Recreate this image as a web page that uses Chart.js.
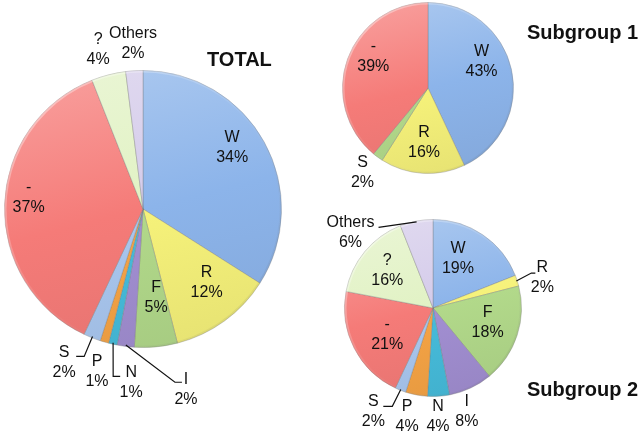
<!DOCTYPE html>
<html>
<head>
<meta charset="utf-8">
<script src="https://cdn.jsdelivr.net/npm/chart.js@4.4.1/dist/chart.umd.min.js"></script>
<style>
    html, body { margin: 0; padding: 0; background: #fff; }
    #stage { position: relative; width: 638px; height: 435px; overflow: hidden; font-family: 'Liberation Sans', Arial, sans-serif; }
    #stage canvas { position: absolute; left: 0; top: 0; }
    .title { position: absolute; font-weight: bold; font-size: 20px; line-height: 1; color: #111; white-space: nowrap; }
</style>
</head>
<body>
<div id="stage">
    <canvas id="totalChart" width="638" height="435"></canvas>
    <canvas id="sub1Chart" width="638" height="435"></canvas>
    <canvas id="sub2Chart" width="638" height="435"></canvas>
    <div class="title" style="left:207px; top:49px;">TOTAL</div>
    <div class="title" style="left:527px; top:22px;">Subgroup 1</div>
    <div class="title" style="left:527px; top:379px;">Subgroup 2</div>
</div>
<script>
// data (percent)
const totalCategories = ['W', 'R', 'F', 'I', 'N', 'P', 'S', '-', '?', 'Others'];
const totalValues = [34, 12, 5, 2, 1, 1, 2, 37, 4, 2];

const sub1Categories = ['W', 'R', 'S', '-'];
const sub1Values = [43, 16, 2, 39];

const sub2Categories = ['W', 'R', 'F', 'I', 'N', 'P', 'S', '-', '?', 'Others'];
const sub2Values = [19, 2, 18, 8, 4, 4, 2, 21, 16, 6];

const categoryColors = {
    'W': '#8cb4ea',
    'R': '#f6f27a',
    'F': '#b2d98a',
    'I': '#a28fd2',
    'N': '#46bcdb',
    'P': '#f6a445',
    'S': '#a9c7ef',
    '-': '#f57b78',
    '?': '#e1f2c4',
    'Others': '#d4cbea'
};

// label placement: f = distance / radius, da = degrees off the slice middle,
// knee / end = leader line points relative to the label centre (px)
const totalPlacement = [
    {f: 0.78, da: -5.6},
    {f: 0.70, da: -5},
    {f: 0.65, da: -3},
    {f: 1.338, da: -20.6, knee: [-11, -7], end: [-4, -7]},
    {f: 1.255, da: -8.7, knee: [-18, -6], end: [-11, -6]},
    {f: 1.219, da: -0.4},
    {f: 1.245, da: 5.6, knee: [20, -6], end: [12, -6]},
    {f: 0.83, da: 4},
    {f: 1.196, da: -1.3},
    {f: 1.196, da: 0.15}
];

const sub1Placement = [
    {f: 0.70, da: -14},
    {f: 0.64, da: 0.6},
    {f: 1.25, da: 1.8},
    {f: 0.74, da: 10.4}
];

const sub2Placement = [
    {f: 0.63, da: -7.6},
    {f: 1.281, da: 2.7, knee: [-11, -5], end: [-7, -5]},
    {f: 0.64, da: -2.7},
    {f: 1.229, da: 7.1},
    {f: 1.232, da: 1},
    {f: 1.259, da: 2.6},
    {f: 1.349, da: 8.4, knee: [19, -5], end: [10, -5]},
    {f: 0.60, da: -3.4},
    {f: 0.67, da: 0},
    {f: 1.264, da: -36.7, end: [28, -5]}
];

function shade(hex, amount) {
    const n = parseInt(hex.slice(1), 16);
    let r = (n >> 16) & 255, g = (n >> 8) & 255, b = n & 255;
    const target = amount > 0 ? 255 : 0;
    const t = Math.abs(amount);
    r = Math.round(r + (target - r) * t);
    g = Math.round(g + (target - g) * t);
    b = Math.round(b + (target - b) * t);
    return `rgb(${r},${g},${b})`;
}

function sliceFill(context, color) {
    const chart = context.chart;
    const area = chart.chartArea;
    if (!area) {
        return color;
    }
    const cx = (area.left + area.right) / 2;
    const cy = (area.top + area.bottom) / 2;
    const r = Math.min(area.right - area.left, area.bottom - area.top) / 2;
    // light from the top, a little from the left
    const g = chart.ctx.createLinearGradient(cx - r * 0.25, cy - r, cx + r * 0.25, cy + r);
    g.addColorStop(0, shade(color, 0.25));
    g.addColorStop(0.5, color);
    g.addColorStop(1, shade(color, -0.06));
    return g;
}

const sliceLabelsPlugin = {
    id: 'sliceLabels',
    afterDatasetsDraw(chart, args, opts) {
        const ctx = chart.ctx;
        const meta = chart.getDatasetMeta(0);
        const labels = chart.data.labels;
        const values = chart.data.datasets[0].data;

        ctx.save();
        // soft rim: light top-left, darker bottom-right
        const first = meta.data[0];
        const cx = first.x, cy = first.y, R = first.outerRadius;
        const rim = ctx.createLinearGradient(cx - R, cy - R, cx + R, cy + R);
        rim.addColorStop(0, 'rgba(255,255,255,0.5)');
        rim.addColorStop(0.5, 'rgba(255,255,255,0.05)');
        rim.addColorStop(1, 'rgba(0,0,0,0.1)');
        ctx.beginPath();
        ctx.arc(cx, cy, R - 1, 0, Math.PI * 2);
        ctx.strokeStyle = rim;
        ctx.lineWidth = 2;
        ctx.stroke();

        ctx.font = '16px "Liberation Sans", Arial, sans-serif';
        ctx.fillStyle = '#111';
        ctx.textAlign = 'center';
        ctx.textBaseline = 'middle';
        ctx.strokeStyle = '#111';
        ctx.lineWidth = 1.2;

        meta.data.forEach((arc, i) => {
            const p = opts.placement[i];
            const mid = (arc.startAngle + arc.endAngle) / 2;
            const a = mid + p.da * Math.PI / 180;
            const lx = arc.x + Math.cos(a) * arc.outerRadius * p.f;
            const ly = arc.y + Math.sin(a) * arc.outerRadius * p.f;

            if (p.end) {
                const sx = arc.x + Math.cos(mid) * arc.outerRadius * 0.99;
                const sy = arc.y + Math.sin(mid) * arc.outerRadius * 0.99;
                const knee = p.knee || p.end;
                ctx.beginPath();
                ctx.moveTo(sx, sy);
                ctx.lineTo(lx + knee[0], ly + knee[1]);
                ctx.lineTo(lx + p.end[0], ly + p.end[1]);
                ctx.stroke();
            }

            ctx.fillText(labels[i], lx, ly - 10);
            ctx.fillText(`${values[i]}%`, lx, ly + 10);
        });
        ctx.restore();
    }
};

function createPie(canvasId, categories, values, colors, placement, padding) {
    const ctx = document.getElementById(canvasId).getContext('2d');
    return new Chart(ctx, {
        type: 'pie',
        data: {
            labels: categories,
            datasets: [{
                data: values,
                backgroundColor: (context) => sliceFill(context, colors[context.dataIndex]),
                borderColor: 'rgba(120,120,120,0.35)',
                borderWidth: 1
            }]
        },
        options: {
            responsive: false,
            animation: false,
            layout: { padding: padding },
            plugins: {
                legend: { display: false },
                tooltip: { enabled: false },
                sliceLabels: { placement: placement }
            }
        },
        plugins: [sliceLabelsPlugin]
    });
}

const totalColors = totalCategories.map(c => categoryColors[c]);
const sub1Colors = sub1Categories.map(c => c === 'S' ? categoryColors['F'] : categoryColors[c]);
const sub2Colors = sub2Categories.map(c => categoryColors[c]);

let totalChart = createPie('totalChart', totalCategories, totalValues, totalColors, totalPlacement,
    {left: 4, right: 356, top: 70, bottom: 87});
let sub1Chart = createPie('sub1Chart', sub1Categories, sub1Values, sub1Colors, sub1Placement,
    {left: 342, right: 124, top: 2, bottom: 261});
let sub2Chart = createPie('sub2Chart', sub2Categories, sub2Values, sub2Colors, sub2Placement,
    {left: 344, right: 116, top: 219, bottom: 38});
</script>
</body>
</html>
